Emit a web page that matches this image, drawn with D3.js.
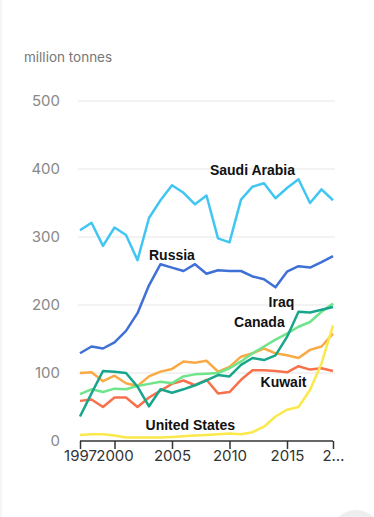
<!DOCTYPE html>
<html>
<head>
<meta charset="utf-8">
<script src="https://cdn.jsdelivr.net/npm/d3@7"></script>
<style>
  html, body { margin: 0; padding: 0; background: #fff; }
  body { width: 374px; height: 517px; overflow: hidden; position: relative; }
  svg { display: block; }
</style>
</head>
<body>
<svg id="chart"></svg>
<script>
const years = d3.range(1997, 2020);

const saudiArabia = [310, 321, 287, 314, 303, 266, 328, 354, 376, 365, 348, 361, 298, 292, 355, 374, 379, 357, 372, 385, 350, 370, 354];
const russia = [129, 139, 136, 145, 162, 188, 229, 260, 255, 250, 260, 246, 251, 250, 250, 242, 238, 226, 249, 257, 255, 263, 272];
const iraq = [36, 70, 103, 102, 100, 80, 51, 76, 71, 76, 82, 89, 97, 95, 112, 122, 119, 126, 153, 190, 189, 193, 197];
const canada = [69, 76, 72, 77, 76, 81, 84, 87, 85, 95, 98, 99, 100, 107, 117, 129, 139, 149, 158, 168, 175, 190, 202];
const kuwait = [59, 61, 50, 64, 64, 50, 64, 74, 84, 89, 82, 90, 70, 72, 90, 104, 104, 103, 101, 110, 105, 107, 103];
const other = [100, 101, 88, 96, 85, 81, 95, 102, 106, 117, 115, 118, 102, 109, 124, 129, 136, 129, 126, 122, 134, 139, 158];
const unitedStates = [9, 10, 10, 8, 5, 5, 5, 5, 6, 7, 8, 9, 10, 11, 10, 13, 21, 36, 46, 50, 75, 114, 170];

const yTicks = [0, 100, 200, 300, 400, 500];
const xTicks = [1997, 2000, 2005, 2010, 2015, 2019];
const xTickLabels = ["1997", "2000", "2005", "2010", "2015", "2…"];

const series = [
  { name: "Other", values: other, color: "#f9aa45" },
  { name: "Kuwait", values: kuwait, color: "#f7714c" },
  { name: "United States", values: unitedStates, color: "#fbe84b" },
  { name: "Canada", values: canada, color: "#6ee48b" },
  { name: "Iraq", values: iraq, color: "#17a68b" },
  { name: "Russia", values: russia, color: "#3f70d6" },
  { name: "Saudi Arabia", values: saudiArabia, color: "#41c6f4" },
];

// label anchors: year + value where text baseline sits
const labels = [
  { text: "Saudi Arabia", year: 2008.3, value: 391 },
  { text: "Russia", year: 2003.0, value: 266 },
  { text: "Iraq", year: 2013.4, value: 197 },
  { text: "Canada", year: 2010.4, value: 168 },
  { text: "Kuwait", year: 2012.7, value: 80 },
  { text: "United States", year: 2002.7, value: 16 },
];

const width = 374, height = 517;
const margin = { left: 80, right: 41, top: 101, bottom: 76 };

const svg = d3.select("#chart").attr("width", width).attr("height", height);

// card edge and corner button
svg.append("line").attr("x1", 1).attr("x2", 1).attr("y1", 0).attr("y2", height)
  .attr("stroke", "#ececec").attr("stroke-width", 1);
svg.append("circle").attr("cx", 356).attr("cy", 536).attr("r", 26).attr("fill", "#eeeeee");

const x = d3.scaleLinear().domain([1997, 2019]).range([margin.left, width - margin.right]);
const y = d3.scaleLinear().domain([0, 500]).range([height - margin.bottom, margin.top]);

svg.append("text")
  .attr("x", 24).attr("y", 62)
  .attr("font-family", "Inter, 'Liberation Sans', sans-serif")
  .attr("font-size", 13.5).attr("fill", "#777")
  .text("million tonnes");

// gridlines
const g = svg.append("g");
g.selectAll("line.grid").data(yTicks.filter(d => d > 0)).enter().append("line")
  .attr("class", "grid")
  .attr("x1", x(1997) - 2).attr("x2", x(2019) + 2)
  .attr("y1", d => y(d)).attr("y2", d => y(d))
  .attr("stroke", "#e6e6e6").attr("stroke-width", 1);

// y labels
g.selectAll("text.ytick").data(yTicks).enter().append("text")
  .attr("class", "ytick")
  .attr("x", 60).attr("y", d => y(d) + 5)
  .attr("text-anchor", "end")
  .attr("font-family", "Inter, 'Liberation Sans', sans-serif")
  .attr("font-size", 15).attr("fill", "#888")
  .text(d => d);

// lines
const line = d3.line().x((d, i) => x(years[i])).y(d => y(d));
svg.append("g").selectAll("path").data(series).enter().append("path")
  .attr("d", d => line(d.values))
  .attr("fill", "none")
  .attr("stroke", d => d.color)
  .attr("stroke-width", 2.5)
  .attr("stroke-linejoin", "round");

// x axis
const xAxis = d3.axisBottom(x)
  .tickValues(xTicks)
  .tickSize(8)
  .tickFormat((d, i) => xTickLabels[i]);
const xg = svg.append("g")
  .attr("transform", `translate(0,${y(0)})`)
  .call(xAxis);
xg.select(".domain").attr("stroke", "#333").attr("stroke-width", 1.5).attr("d", `M${x(1997)},0H${x(2019)}`);
xg.selectAll(".tick line").attr("stroke", "#333").attr("stroke-width", 1.5);
xg.selectAll(".tick text")
  .attr("font-family", "Inter, 'Liberation Sans', sans-serif")
  .attr("font-size", 15).attr("fill", "#333").attr("dy", "0.55em").attr("y", 12);

// labels
svg.append("g").selectAll("text").data(labels).enter().append("text")
  .attr("x", d => x(d.year)).attr("y", d => y(d.value))
  .attr("font-family", "'Liberation Sans', Arial, sans-serif")
  .attr("font-weight", "bold")
  .attr("font-size", 14)
  .attr("fill", "#111")
  .text(d => d.text);
</script>
</body>
</html>
